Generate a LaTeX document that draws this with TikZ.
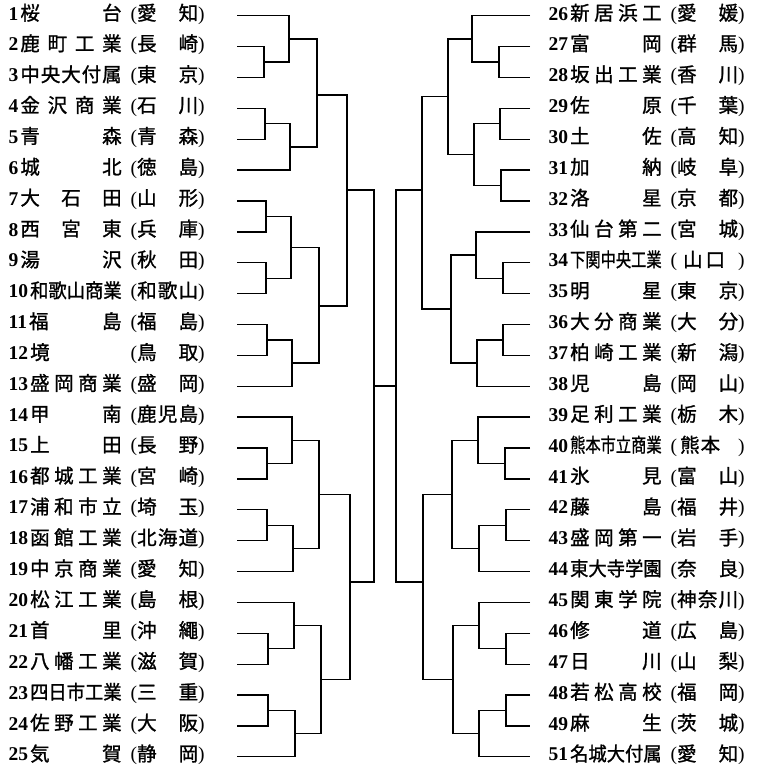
\documentclass[tikz,border=0pt]{standalone}
\usepackage{fontspec}
\usepackage{graphicx}
\setmainfont{Liberation Serif}
\newfontfamily\cjk[FakeBold=1.2]{Noto Sans CJK JP}
\newsavebox\numbox
\newsavebox\namebox
\newlength\namew
\newcommand{\entry}[3]{%
  \sbox\numbox{\rmfamily\bfseries #1}%
  \setlength\namew{\dimexpr 113pt-\wd\numbox-2pt\relax}%
  \usebox\numbox\kern2pt
  \sbox\namebox{#2}%
  \ifdim\wd\namebox>\namew
    \resizebox{\namew}{\height}{\usebox\namebox}%
  \else
    \hbox to \namew{#2}%
  \fi
  \kern9pt{\rmfamily(}\hbox to 61pt{#3}{\rmfamily)}}
\begin{document}
\begin{tikzpicture}[x=1pt,y=-1pt,line width=1.3pt]
    \tikzstyle{every node}+=[inner sep=0pt,anchor=west,font=\fontsize{19.5}{20}\selectfont\cjk]
    \useasboundingbox (0,0) rectangle (761,768);
    \node (n1) at (8,14) {\entry{1}{桜\hfill 台}{愛\hfill 知}};
    \node (n2) at (8,44.6) {\entry{2}{鹿\hfill 町\hfill 工\hfill 業}{長\hfill 崎}};
    \node (n3) at (8,75.5) {\entry{3}{中\hfill 央\hfill 大\hfill 付\hfill 属}{東\hfill 京}};
    \node (n4) at (8,106.3) {\entry{4}{金\hfill 沢\hfill 商\hfill 業}{石\hfill 川}};
    \node (n5) at (8,137.2) {\entry{5}{青\hfill 森}{青\hfill 森}};
    \node (n6) at (8,168.1) {\entry{6}{城\hfill 北}{徳\hfill 島}};
    \node (n7) at (8,199) {\entry{7}{大\hfill 石\hfill 田}{山\hfill 形}};
    \node (n8) at (8,229.9) {\entry{8}{西\hfill 宮\hfill 東}{兵\hfill 庫}};
    \node (n9) at (8,260.7) {\entry{9}{湯\hfill 沢}{秋\hfill 田}};
    \node (n10) at (8,291.6) {\entry{10}{和\hfill 歌\hfill 山\hfill 商\hfill 業}{和\hfill 歌\hfill 山}};
    \node (n11) at (8,322.5) {\entry{11}{福\hfill 島}{福\hfill 島}};
    \node (n12) at (8,353.4) {\entry{12}{境\hfill}{鳥\hfill 取}};
    \node (n13) at (8,384.3) {\entry{13}{盛\hfill 岡\hfill 商\hfill 業}{盛\hfill 岡}};
    \node (n14) at (8,415.1) {\entry{14}{甲\hfill 南}{鹿\hfill 児\hfill 島}};
    \node (n15) at (8,446) {\entry{15}{上\hfill 田}{長\hfill 野}};
    \node (n16) at (8,476.9) {\entry{16}{都\hfill 城\hfill 工\hfill 業}{宮\hfill 崎}};
    \node (n17) at (8,507.8) {\entry{17}{浦\hfill 和\hfill 市\hfill 立}{埼\hfill 玉}};
    \node (n18) at (8,538.7) {\entry{18}{函\hfill 館\hfill 工\hfill 業}{北\hfill 海\hfill 道}};
    \node (n19) at (8,569.6) {\entry{19}{中\hfill 京\hfill 商\hfill 業}{愛\hfill 知}};
    \node (n20) at (8,600.4) {\entry{20}{松\hfill 江\hfill 工\hfill 業}{島\hfill 根}};
    \node (n21) at (8,631.3) {\entry{21}{首\hfill 里}{沖\hfill 繩}};
    \node (n22) at (8,662.2) {\entry{22}{八\hfill 幡\hfill 工\hfill 業}{滋\hfill 賀}};
    \node (n23) at (8,693.1) {\entry{23}{四\hfill 日\hfill 市\hfill 工\hfill 業}{三\hfill 重}};
    \node (n24) at (8,723.9) {\entry{24}{佐\hfill 野\hfill 工\hfill 業}{大\hfill 阪}};
    \node (n25) at (8,754.8) {\entry{25}{気\hfill 賀}{静\hfill 岡}};
    \node (n26) at (548,14) {\entry{26}{新\hfill 居\hfill 浜\hfill 工}{愛\hfill 媛}};
    \node (n27) at (548,44.6) {\entry{27}{富\hfill 岡}{群\hfill 馬}};
    \node (n28) at (548,75.5) {\entry{28}{坂\hfill 出\hfill 工\hfill 業}{香\hfill 川}};
    \node (n29) at (548,106.3) {\entry{29}{佐\hfill 原}{千\hfill 葉}};
    \node (n30) at (548,137.2) {\entry{30}{土\hfill 佐}{高\hfill 知}};
    \node (n31) at (548,168.1) {\entry{31}{加\hfill 納}{岐\hfill 阜}};
    \node (n32) at (548,199) {\entry{32}{洛\hfill 星}{京\hfill 都}};
    \node (n33) at (548,229.9) {\entry{33}{仙\hfill 台\hfill 第\hfill 二}{宮\hfill 城}};
    \node (n34) at (548,260.7) {\entry{34}{下\hfill 関\hfill 中\hfill 央\hfill 工\hfill 業}{\kern6pt 山\kern3pt 口\hfil}};
    \node (n35) at (548,291.6) {\entry{35}{明\hfill 星}{東\hfill 京}};
    \node (n36) at (548,322.5) {\entry{36}{大\hfill 分\hfill 商\hfill 業}{大\hfill 分}};
    \node (n37) at (548,353.4) {\entry{37}{柏\hfill 崎\hfill 工\hfill 業}{新\hfill 潟}};
    \node (n38) at (548,384.3) {\entry{38}{児\hfill 島}{岡\hfill 山}};
    \node (n39) at (548,415.1) {\entry{39}{足\hfill 利\hfill 工\hfill 業}{栃\hfill 木}};
    \node (n40) at (548,446) {\entry{40}{熊\hfill 本\hfill 市\hfill 立\hfill 商\hfill 業}{\kern3pt 熊\kern1pt 本\hfil}};
    \node (n41) at (548,476.9) {\entry{41}{氷\hfill 見}{富\hfill 山}};
    \node (n42) at (548,507.8) {\entry{42}{藤\hfill 島}{福\hfill 井}};
    \node (n43) at (548,538.7) {\entry{43}{盛\hfill 岡\hfill 第\hfill 一}{岩\hfill 手}};
    \node (n44) at (548,569.6) {\entry{44}{東\hfill 大\hfill 寺\hfill 学\hfill 園}{奈\hfill 良}};
    \node (n45) at (548,600.4) {\entry{45}{関\hfill 東\hfill 学\hfill 院}{神\hfill 奈\hfill 川}};
    \node (n46) at (548,631.3) {\entry{46}{修\hfill 道}{広\hfill 島}};
    \node (n47) at (548,662.2) {\entry{47}{日\hfill 川}{山\hfill 梨}};
    \node (n48) at (548,693.1) {\entry{48}{若\hfill 松\hfill 高\hfill 校}{福\hfill 岡}};
    \node (n49) at (548,723.9) {\entry{49}{麻\hfill 生}{茨\hfill 城}};
    \node (n51) at (548,754.8) {\entry{51}{名\hfill 城\hfill 大\hfill 付\hfill 属}{愛\hfill 知}};
    \coordinate (t1) at (237,15.7);
    \coordinate (t2) at (237,46.6);
    \coordinate (t3) at (237,77.5);
    \coordinate (t4) at (237,108.3);
    \coordinate (t5) at (237,139.2);
    \coordinate (t6) at (237,170.1);
    \coordinate (t7) at (237,201);
    \coordinate (t8) at (237,231.9);
    \coordinate (t9) at (237,262.7);
    \coordinate (t10) at (237,293.6);
    \coordinate (t11) at (237,324.5);
    \coordinate (t12) at (237,355.4);
    \coordinate (t13) at (237,386.3);
    \coordinate (t14) at (237,417.1);
    \coordinate (t15) at (237,448);
    \coordinate (t16) at (237,478.9);
    \coordinate (t17) at (237,509.8);
    \coordinate (t18) at (237,540.7);
    \coordinate (t19) at (237,571.6);
    \coordinate (t20) at (237,602.4);
    \coordinate (t21) at (237,633.3);
    \coordinate (t22) at (237,664.2);
    \coordinate (t23) at (237,695.1);
    \coordinate (t24) at (237,725.9);
    \coordinate (t25) at (237,756.8);
    \coordinate (t26) at (530,15.7);
    \coordinate (t27) at (530,46.6);
    \coordinate (t28) at (530,77.5);
    \coordinate (t29) at (530,108.3);
    \coordinate (t30) at (530,139.2);
    \coordinate (t31) at (530,170.1);
    \coordinate (t32) at (530,201);
    \coordinate (t33) at (530,231.9);
    \coordinate (t34) at (530,262.7);
    \coordinate (t35) at (530,293.6);
    \coordinate (t36) at (530,324.5);
    \coordinate (t37) at (530,355.4);
    \coordinate (t38) at (530,386.3);
    \coordinate (t39) at (530,417.1);
    \coordinate (t40) at (530,448);
    \coordinate (t41) at (530,478.9);
    \coordinate (t42) at (530,509.8);
    \coordinate (t43) at (530,540.7);
    \coordinate (t44) at (530,571.6);
    \coordinate (t45) at (530,602.4);
    \coordinate (t46) at (530,633.3);
    \coordinate (t47) at (530,664.2);
    \coordinate (t48) at (530,695.1);
    \coordinate (t49) at (530,725.9);
    \coordinate (t51) at (530,756.8);
    \coordinate (a23) at (264,62);
    \coordinate (a45) at (265,123.8);
    \coordinate (a1) at (289,38.9);
    \coordinate (a6) at (290,147);
    \coordinate (aq) at (317,95);
    \coordinate (b78) at (266,216.5);
    \coordinate (b910) at (266,278.2);
    \coordinate (b710) at (291,247.3);
    \coordinate (b1112) at (267,340);
    \coordinate (b13) at (292,363);
    \coordinate (bq) at (319,306);
    \coordinate (c1516) at (267,463.5);
    \coordinate (c14) at (292,440.3);
    \coordinate (c1718) at (267,525.3);
    \coordinate (c19) at (293,548.4);
    \coordinate (cq) at (319,494.4);
    \coordinate (d2122) at (268,648.8);
    \coordinate (d20) at (294,625.6);
    \coordinate (d2324) at (268,710.5);
    \coordinate (d25) at (295,733.7);
    \coordinate (dq) at (321,679.7);
    \coordinate (lh1) at (347,190);
    \coordinate (lh2) at (350,582);
    \coordinate (lf) at (374,386);
    \coordinate (e2728) at (499,62);
    \coordinate (e26) at (472,38.9);
    \coordinate (e2930) at (500,123.8);
    \coordinate (e3132) at (501,185.6);
    \coordinate (e2932) at (474,154.7);
    \coordinate (eq) at (448,96.8);
    \coordinate (f3435) at (503,278.2);
    \coordinate (f33) at (476,255);
    \coordinate (f3637) at (503,340);
    \coordinate (f38) at (477,363);
    \coordinate (fq) at (451,309);
    \coordinate (g4041) at (505,463.5);
    \coordinate (g39) at (478,440.3);
    \coordinate (g4243) at (506,525.3);
    \coordinate (g44) at (479,548.4);
    \coordinate (gq) at (452,494.4);
    \coordinate (h4647) at (506,648.8);
    \coordinate (h45) at (479,625.6);
    \coordinate (h4849) at (506,710.5);
    \coordinate (h51) at (479,733.7);
    \coordinate (hq) at (453,679.7);
    \coordinate (rh1) at (422,190);
    \coordinate (rh2) at (423,582);
    \coordinate (rf) at (396,386);
    \draw [black] (t2) -| (a23) |- (t3);
    \draw [black] (t4) -| (a45) |- (t5);
    \draw [black] (t1) -| (a1) |- (a23);
    \draw [black] (a45) -| (a6) |- (t6);
    \draw [black] (a1) -| (aq) |- (a6);
    \draw [black] (t7) -| (b78) |- (t8);
    \draw [black] (t9) -| (b910) |- (t10);
    \draw [black] (b78) -| (b710) |- (b910);
    \draw [black] (t11) -| (b1112) |- (t12);
    \draw [black] (b1112) -| (b13) |- (t13);
    \draw [black] (b710) -| (bq) |- (b13);
    \draw [black] (t15) -| (c1516) |- (t16);
    \draw [black] (t14) -| (c14) |- (c1516);
    \draw [black] (t17) -| (c1718) |- (t18);
    \draw [black] (c1718) -| (c19) |- (t19);
    \draw [black] (c14) -| (cq) |- (c19);
    \draw [black] (t21) -| (d2122) |- (t22);
    \draw [black] (t20) -| (d20) |- (d2122);
    \draw [black] (t23) -| (d2324) |- (t24);
    \draw [black] (d2324) -| (d25) |- (t25);
    \draw [black] (d20) -| (dq) |- (d25);
    \draw [black] (aq) -| (lh1) |- (bq);
    \draw [black] (cq) -| (lh2) |- (dq);
    \draw [black] (lh1) -| (lf) |- (lh2);
    \draw [black] (t27) -| (e2728) |- (t28);
    \draw [black] (t26) -| (e26) |- (e2728);
    \draw [black] (t29) -| (e2930) |- (t30);
    \draw [black] (t31) -| (e3132) |- (t32);
    \draw [black] (e2930) -| (e2932) |- (e3132);
    \draw [black] (e26) -| (eq) |- (e2932);
    \draw [black] (t34) -| (f3435) |- (t35);
    \draw [black] (t33) -| (f33) |- (f3435);
    \draw [black] (t36) -| (f3637) |- (t37);
    \draw [black] (f3637) -| (f38) |- (t38);
    \draw [black] (f33) -| (fq) |- (f38);
    \draw [black] (t40) -| (g4041) |- (t41);
    \draw [black] (t39) -| (g39) |- (g4041);
    \draw [black] (t42) -| (g4243) |- (t43);
    \draw [black] (g4243) -| (g44) |- (t44);
    \draw [black] (g39) -| (gq) |- (g44);
    \draw [black] (t46) -| (h4647) |- (t47);
    \draw [black] (t45) -| (h45) |- (h4647);
    \draw [black] (t48) -| (h4849) |- (t49);
    \draw [black] (h4849) -| (h51) |- (t51);
    \draw [black] (h45) -| (hq) |- (h51);
    \draw [black] (eq) -| (rh1) |- (fq);
    \draw [black] (gq) -| (rh2) |- (hq);
    \draw [black] (rh1) -| (rf) |- (rh2);
    \draw [black] (lf) -- (rf);
\end{tikzpicture}
\end{document}
